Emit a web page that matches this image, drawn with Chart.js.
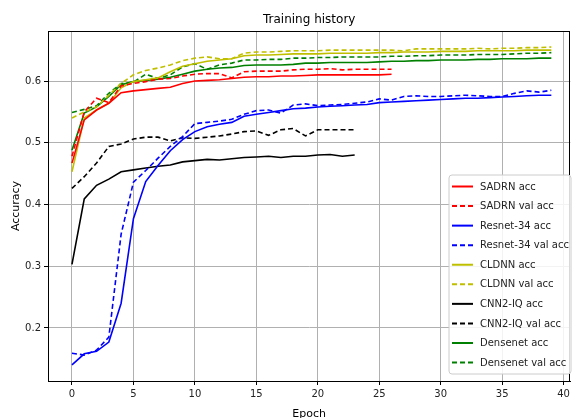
<!DOCTYPE html>
<html><head><meta charset="utf-8">
<script src="https://cdn.jsdelivr.net/npm/chart.js@4.4.1/dist/chart.umd.min.js"></script>
<style>html,body{margin:0;padding:0;background:#fff;} canvas{display:block;}</style>
</head><body>
<canvas id="c" width="573" height="418"></canvas>
<script>
// ---- data ----
const chartTitle = "Training history";
const xAxisTitle = "Epoch";
const yAxisTitle = "Accuracy";
const xTicks = [0, 5, 10, 15, 20, 25, 30, 35, 40];
const yTicks = [0.2, 0.3, 0.4, 0.5, 0.6];

const sadrnAcc = [0.467,0.537,0.553,0.564,0.581,0.584,0.586,0.588,0.590,0.596,0.600,0.601,0.602,0.604,0.606,0.607,0.607,0.608,0.608,0.609,0.610,0.610,0.610,0.610,0.610,0.610,0.611];
const sadrnVal = [0.478,0.550,0.572,0.565,0.592,0.596,0.599,0.603,0.604,0.608,0.611,0.612,0.612,0.605,0.615,0.616,0.616,0.616,0.618,0.619,0.619,0.620,0.618,0.619,0.619,0.619,0.619];
const resnetAcc = [0.140,0.158,0.162,0.177,0.240,0.377,0.437,0.463,0.487,0.505,0.518,0.526,0.530,0.533,0.543,0.546,0.549,0.552,0.555,0.556,0.558,0.559,0.560,0.561,0.562,0.565,0.566,0.567,0.568,0.569,0.570,0.571,0.572,0.572,0.573,0.574,0.575,0.576,0.577,0.577];
const resnetVal = [0.159,0.156,0.164,0.185,0.352,0.436,0.455,0.475,0.494,0.510,0.531,0.533,0.535,0.538,0.546,0.552,0.553,0.548,0.561,0.563,0.560,0.561,0.562,0.564,0.566,0.571,0.569,0.575,0.576,0.575,0.575,0.576,0.577,0.576,0.575,0.575,0.580,0.584,0.582,0.585];
const cldnnAcc = [0.453,0.540,0.553,0.564,0.589,0.599,0.602,0.605,0.615,0.624,0.628,0.632,0.634,0.636,0.641,0.642,0.642,0.643,0.644,0.644,0.644,0.645,0.645,0.645,0.645,0.646,0.646,0.647,0.647,0.647,0.648,0.648,0.648,0.649,0.649,0.649,0.649,0.650,0.650,0.650];
const cldnnVal = [0.540,0.550,0.558,0.577,0.596,0.610,0.617,0.621,0.626,0.633,0.637,0.639,0.636,0.636,0.645,0.647,0.647,0.648,0.649,0.649,0.649,0.650,0.650,0.650,0.650,0.650,0.650,0.649,0.652,0.652,0.652,0.652,0.652,0.653,0.652,0.653,0.653,0.654,0.654,0.655];
const cnnAcc = [0.303,0.409,0.431,0.441,0.453,0.456,0.459,0.462,0.464,0.469,0.471,0.473,0.472,0.474,0.476,0.477,0.478,0.476,0.478,0.478,0.480,0.481,0.478,0.480];
const cnnVal = [0.426,0.445,0.467,0.494,0.498,0.506,0.509,0.509,0.503,0.508,0.507,0.509,0.511,0.514,0.518,0.519,0.512,0.521,0.523,0.511,0.521,0.521,0.521,0.521];
const densenetAcc = [0.488,0.548,0.558,0.575,0.594,0.599,0.601,0.603,0.606,0.611,0.616,0.619,0.621,0.622,0.625,0.626,0.626,0.626,0.627,0.629,0.629,0.630,0.630,0.630,0.630,0.631,0.632,0.632,0.633,0.633,0.634,0.634,0.634,0.635,0.635,0.636,0.636,0.636,0.637,0.637];
const densenetVal = [0.549,0.554,0.560,0.580,0.596,0.598,0.611,0.604,0.610,0.623,0.628,0.619,0.626,0.629,0.634,0.634,0.635,0.635,0.637,0.637,0.638,0.638,0.639,0.639,0.639,0.639,0.640,0.640,0.641,0.641,0.642,0.642,0.642,0.643,0.643,0.643,0.644,0.645,0.645,0.646];

const seriesLabels = ["SADRN acc","SADRN val acc","Resnet-34 acc","Resnet-34 val acc","CLDNN acc","CLDNN val acc","CNN2-IQ acc","CNN2-IQ val acc","Densenet acc","Densenet val acc"];
const seriesValues = [sadrnAcc,sadrnVal,resnetAcc,resnetVal,cldnnAcc,cldnnVal,cnnAcc,cnnVal,densenetAcc,densenetVal];
const seriesColors = ["#ff0000","#ff0000","#0000ff","#0000ff","#bfbf00","#bfbf00","#000000","#000000","#008000","#008000"];
const seriesDashed = [false,true,false,true,false,true,false,true,false,true];

// ---- chart ----
const FONT = "'DejaVu Sans', sans-serif";
const datasets = seriesLabels.map((lab, i) => ({
  label: lab,
  data: seriesValues[i].map((v, k) => ({x: k, y: v})),
  borderColor: seriesColors[i],
  backgroundColor: seriesColors[i],
  borderWidth: 1.6,
  borderDash: seriesDashed[i] ? [5, 3] : [],
  pointRadius: 0,
  tension: 0,
  fill: false
}));

const decorPlugin = {
  id: 'decor',
  afterDraw(chart) {
    const ctx = chart.ctx;
    const a = chart.chartArea;
    ctx.save();
    // frame
    ctx.strokeStyle = '#000'; ctx.lineWidth = 1; ctx.setLineDash([]);
    ctx.strokeRect(Math.round(a.left) + 0.5, Math.round(a.top) + 0.5, Math.round(a.right - a.left) - 1, Math.round(a.bottom - a.top));
    // title
    ctx.fillStyle = '#000';
    ctx.font = "12px " + FONT;
    ctx.textAlign = 'center'; ctx.textBaseline = 'alphabetic';
    ctx.fillText(chartTitle, (a.left + a.right) / 2, 23);
    // axis titles
    ctx.font = "11px " + FONT;
    ctx.fillText(xAxisTitle, (a.left + a.right) / 2, 417);
    ctx.save();
    ctx.translate(19, (a.top + a.bottom) / 2);
    ctx.rotate(-Math.PI / 2);
    ctx.textBaseline = 'alphabetic';
    ctx.fillText(yAxisTitle, 0, 0);
    ctx.restore();
    // legend
    const lx = 449, ly = 175, lw = 122, lh = 199, r = 3;
    ctx.beginPath();
    ctx.moveTo(lx + r, ly);
    ctx.lineTo(lx + lw - r, ly); ctx.quadraticCurveTo(lx + lw, ly, lx + lw, ly + r);
    ctx.lineTo(lx + lw, ly + lh - r); ctx.quadraticCurveTo(lx + lw, ly + lh, lx + lw - r, ly + lh);
    ctx.lineTo(lx + r, ly + lh); ctx.quadraticCurveTo(lx, ly + lh, lx, ly + lh - r);
    ctx.lineTo(lx, ly + r); ctx.quadraticCurveTo(lx, ly, lx + r, ly);
    ctx.closePath();
    ctx.fillStyle = 'rgba(255,255,255,0.85)';
    ctx.fill();
    ctx.strokeStyle = '#cccccc'; ctx.lineWidth = 1;
    ctx.stroke();
    ctx.font = "10px " + FONT;
    ctx.textAlign = 'left'; ctx.textBaseline = 'middle';
    chart.data.datasets.forEach((ds, i) => {
      const y = 186.5 + i * 19.56;
      ctx.strokeStyle = ds.borderColor; ctx.lineWidth = 2;
      ctx.setLineDash(ds.borderDash);
      ctx.beginPath(); ctx.moveTo(452, y); ctx.lineTo(473, y); ctx.stroke();
      ctx.setLineDash([]);
      ctx.fillStyle = '#222';
      ctx.fillText(ds.label, 480, y + 0.5);
    });
    ctx.restore();
  }
};

new Chart(document.getElementById('c'), {
  type: 'line',
  data: { datasets },
  options: {
    responsive: false,
    animation: false,
    devicePixelRatio: 1,
    layout: { padding: { left: 0, right: 1, top: 31, bottom: 0 } },
    plugins: { legend: { display: false }, title: { display: false }, tooltip: { enabled: false } },
    scales: {
      x: {
        type: 'linear', min: -1.95, max: 40.55,
        afterBuildTicks: s => { s.ticks = xTicks.map(v => ({ value: v })); },
        afterFit: s => { s.height = 37; },
        ticks: { font: { family: FONT, size: 10 }, color: '#222', padding: 3, maxRotation: 0, autoSkip: false,
                 callback: v => String(v) },
        grid: { color: '#b0b0b0', lineWidth: 1, drawTicks: true, tickLength: 4, tickColor: '#000', tickWidth: 1 },
        border: { display: true, color: '#000', width: 1 }
      },
      y: {
        type: 'linear', min: 0.114, max: 0.681,
        afterBuildTicks: s => { s.ticks = yTicks.map(v => ({ value: v })); },
        afterFit: s => { s.width = 48; },
        ticks: { font: { family: FONT, size: 10 }, color: '#222', padding: 3, autoSkip: false,
                 callback: v => v.toFixed(1) },
        grid: { color: '#b0b0b0', lineWidth: 1, drawTicks: true, tickLength: 4, tickColor: '#000', tickWidth: 1 },
        border: { display: true, color: '#000', width: 1 }
      }
    }
  },
  plugins: [decorPlugin]
});
</script>
</body></html>
